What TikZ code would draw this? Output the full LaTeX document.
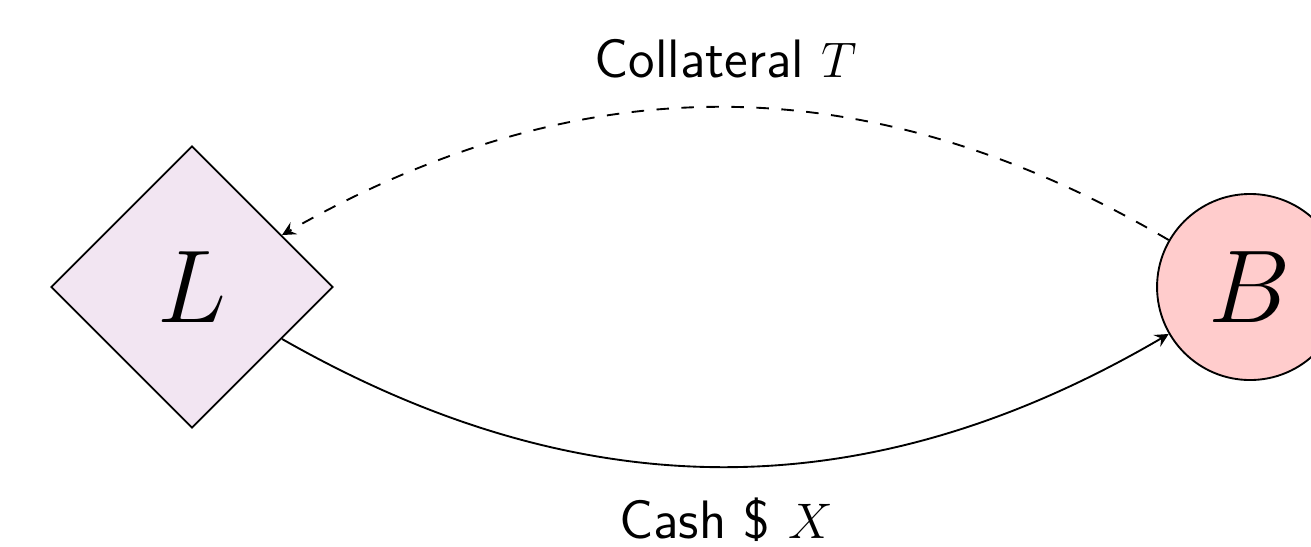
\documentclass[tikz,border=0pt]{standalone}
\usepackage{amsmath,amssymb}
\usepackage{tikz}
\usetikzlibrary{shapes.geometric,arrows}

\begin{document}
\begin{tikzpicture}[
    line width=0.45pt,
    lender/.style={diamond, draw, fill=violet!10, minimum size=2.38cm, inner sep=0pt, font=\Huge},
    borrower/.style={circle, draw, fill=red!20, minimum size=1.57cm, inner sep=0pt, font=\Huge},
    flowlabel/.style={font=\fontsize{13}{16}\selectfont\sffamily}
  ]
    % Frame
    \useasboundingbox (0,0) rectangle (11.063,4.608);

    % Parties
    \node[lender] (L) at (1.62,2.186) {$L$};
    \node[borrower] (B) at (10.549,2.186) {$B$};

    % Cash goes to the borrower
    \draw[-stealth] (L) to[bend right=30]
        node[midway, below=0.14cm, flowlabel] (cash) {Cash \$ $X$} (B);

    % Collateral comes back
    \draw[-stealth, dashed] (B) to[bend right=30]
        node[midway, above=0.12cm, flowlabel] (coll) {Collateral $T$} (L);
\end{tikzpicture}
\end{document}
